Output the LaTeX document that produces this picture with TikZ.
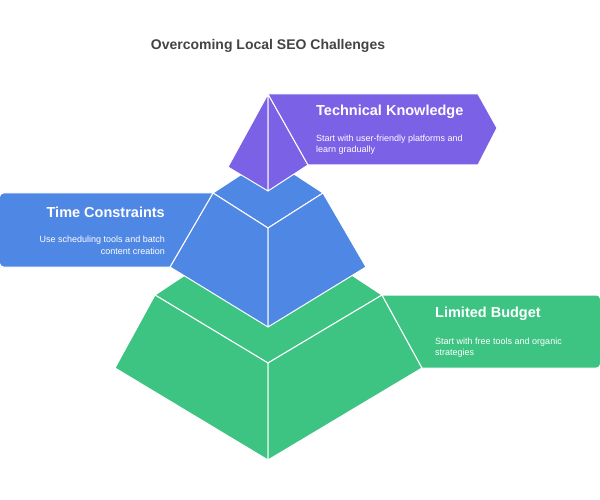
\documentclass[tikz,border=0pt]{standalone}
\usepackage{fontspec}
\setmainfont{Liberation Sans}
\definecolor{cpurple}{HTML}{7B61E6}
\definecolor{cblue}{HTML}{4F87E4}
\definecolor{cgreen}{HTML}{3DC483}
\definecolor{ctitle}{HTML}{444444}
\begin{document}
\begin{tikzpicture}[x=1pt,y=-1pt,
  face/.style={draw=white,line width=1pt,line join=round},
  headl/.style={text=white,font=\bfseries\fontsize{14.5}{16}\selectfont,inner sep=0pt},
  descl/.style={text=white,font=\fontsize{9}{11.5}\selectfont,inner sep=0pt,align=left},
]
\useasboundingbox (0,0) rectangle (600,500);
\fill[white] (0,0) rectangle (600,500);
% green tier
\fill[cgreen,face] (155,295) -- (268,220) -- (382,295) -- (268,363) -- cycle;
\fill[cgreen,face] (155,295) -- (268,363) -- (268,460) -- (115,368) -- cycle;
\fill[cgreen,face] (268,363) -- (382,295) -- (422,368) -- (268,460) -- cycle;
\fill[cgreen,face] (382,295) -- (600,295) [rounded corners=4pt] -- (600.5,295) -- (600.5,368) [sharp corners] -- (600,368) -- (422,368) -- cycle;
% blue tier
\fill[cblue,face] (213,193) -- (268,157) -- (323,193) -- (268,228) -- cycle;
\fill[cblue,face] (213,193) -- (268,228) -- (268,327) -- (170,267) -- cycle;
\fill[cblue,face] (268,228) -- (323,193) -- (366,267) -- (268,327) -- cycle;
\fill[cblue,face] (213,193) -- (0,193) [rounded corners=4pt] -- (-0.5,193) -- (-0.5,267) [sharp corners] -- (0,267) -- (170,267) -- cycle;
% purple tier
\fill[cpurple,face] (268,94) -- (268,191) -- (228,167) -- cycle;
\fill[cpurple,face] (268,94) -- (308,165) -- (268,191) -- cycle;
\fill[cpurple,face] (268,94) -- (478,94) -- (497,128) -- (478,165) -- (308,165) -- cycle;
% texts
\node[text=ctitle,font=\bfseries\fontsize{14}{16}\selectfont,inner sep=0pt] (title) at (268,46) {Overcoming Local SEO Challenges};
\node[headl,anchor=west] (tk) at (316,112) {Technical Knowledge};
\node[descl,anchor=north west] (tkd) at (316,134.5) {Start with user-friendly platforms and\\learn gradually};
\node[headl,anchor=east] (tc) at (165,212.5) {Time Constraints};
\node[descl,anchor=north east,align=right] (tcd) at (165,236) {Use scheduling tools and batch\\content creation};
\node[headl,anchor=west] (lb) at (435,314) {Limited Budget};
\node[descl,anchor=north west] (lbd) at (435,337.5) {Start with free tools and organic\\strategies};
\end{tikzpicture}
\end{document}
